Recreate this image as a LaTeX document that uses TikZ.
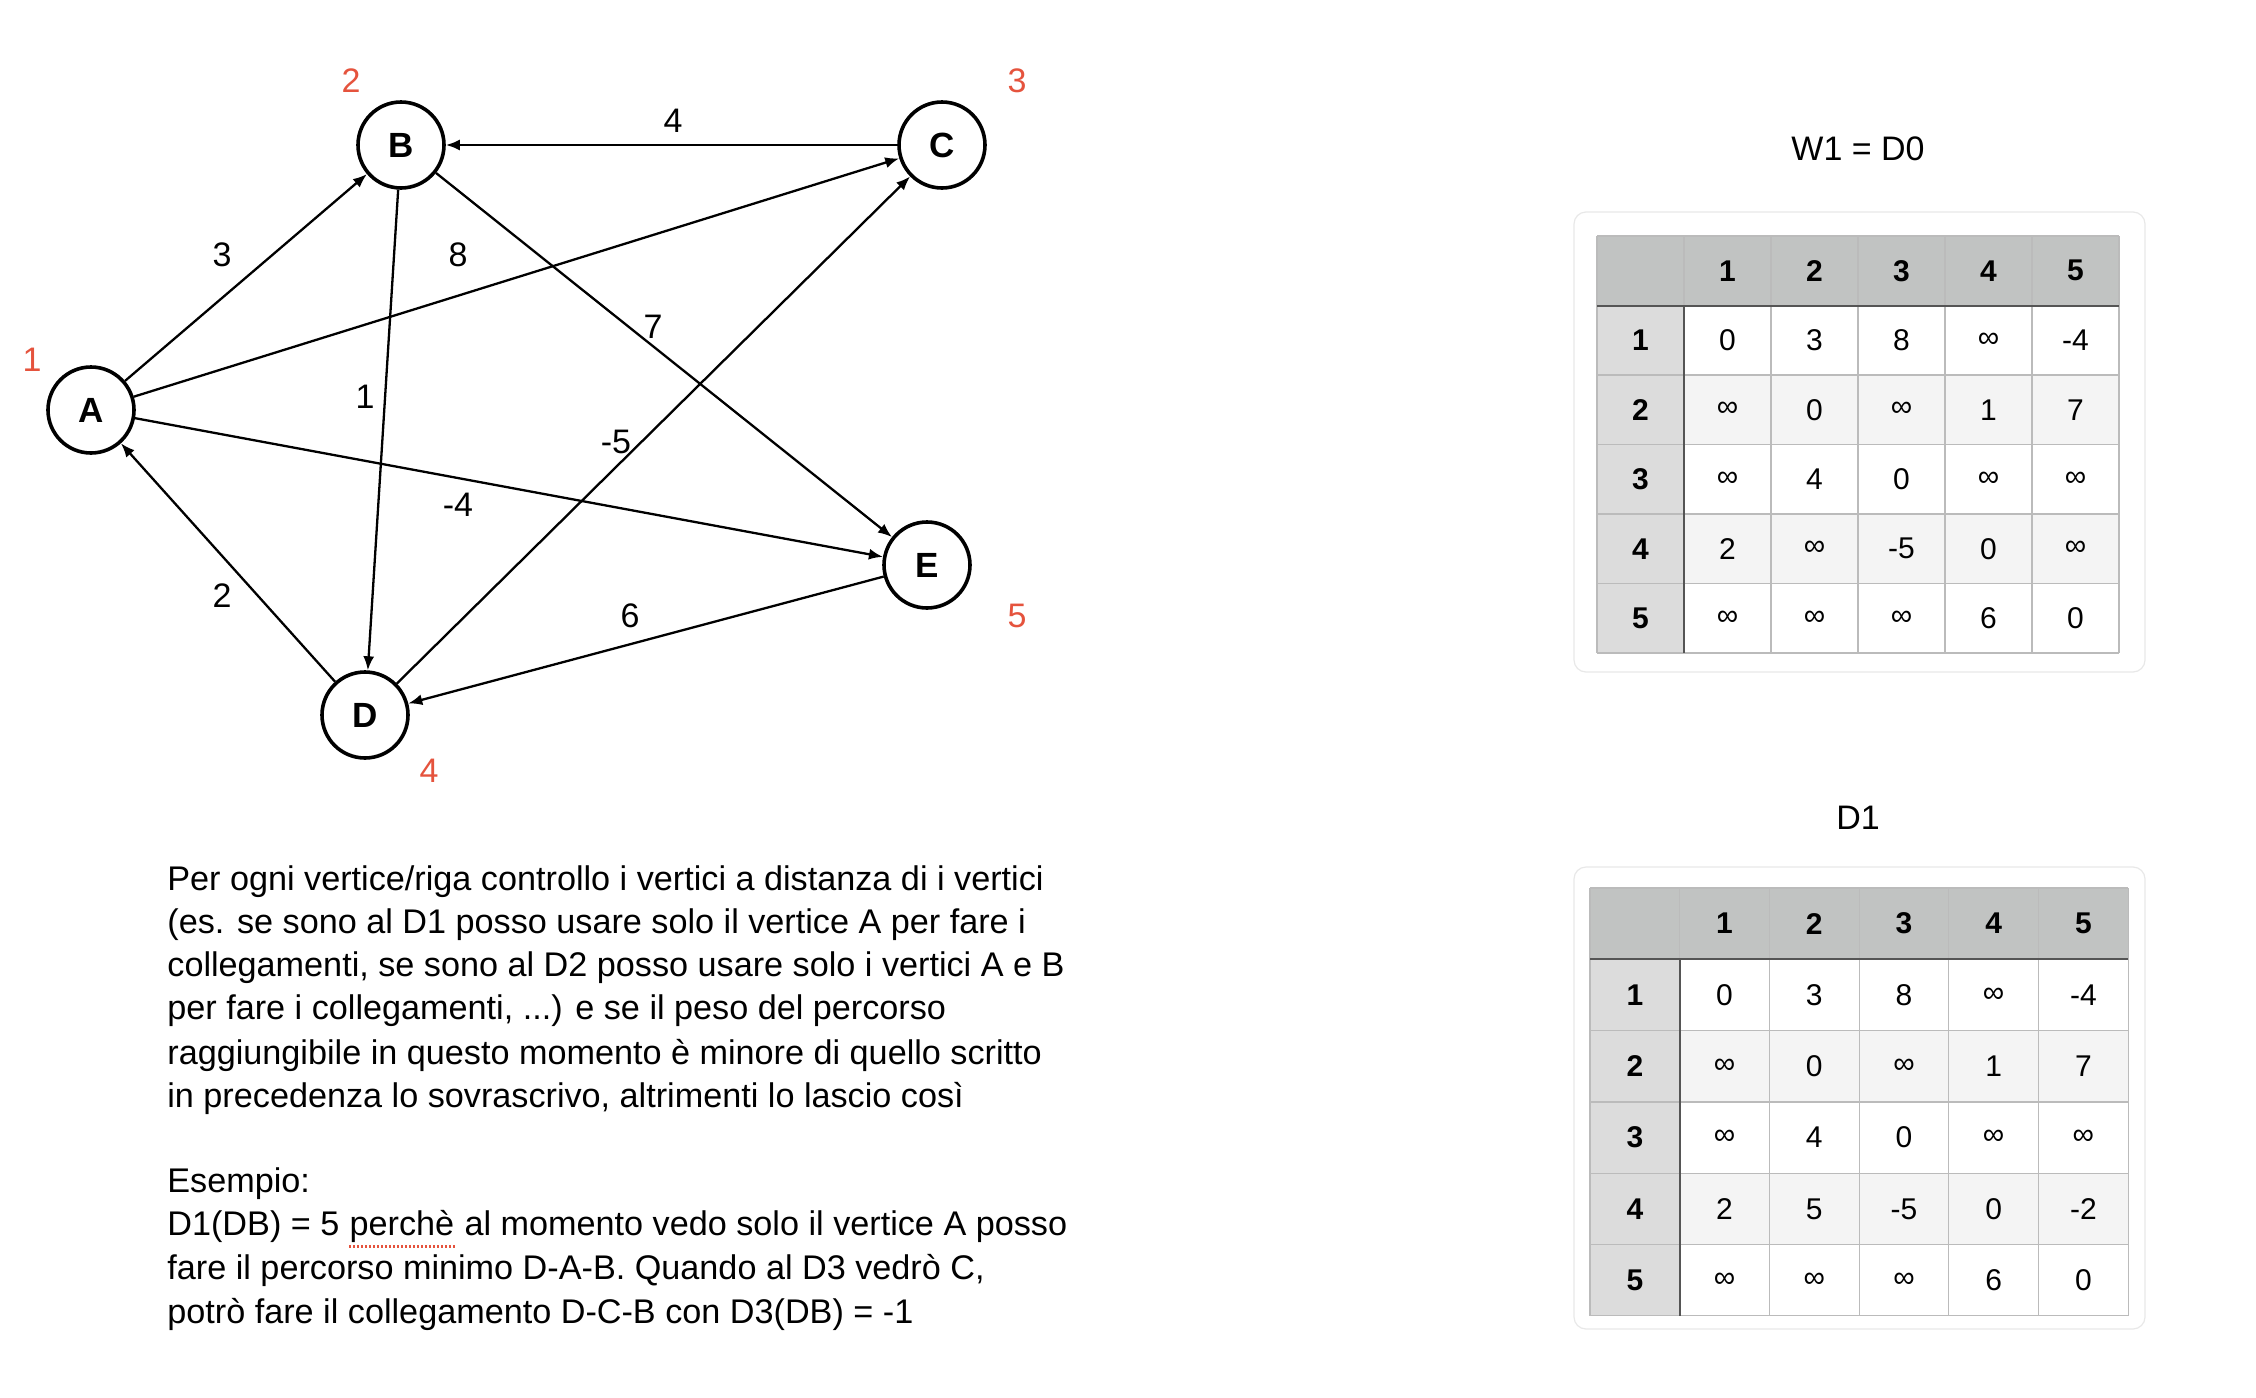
\documentclass[tikz,border=0pt]{standalone}
\usepackage{fontspec}
\setmainfont{Liberation Sans}
\usetikzlibrary{arrows.meta}
\definecolor{lblred}{HTML}{E5533D}
\definecolor{hdrgray}{HTML}{C1C3C2}
\definecolor{rowgray}{HTML}{DCDCDC}
\definecolor{altgray}{HTML}{F4F4F4}
\definecolor{gridgray}{HTML}{BBBBBB}
\definecolor{darkline}{HTML}{555555}
\tikzset{
  vtx/.style={circle,draw=black,line width=1.8pt,minimum size=43pt,inner sep=0pt,font=\fontsize{17.5}{20}\selectfont\bfseries},
  edge/.style={line width=1.15pt,-{Latex[length=7pt,width=5.5pt]}},
  wlbl/.style={font=\fontsize{17}{20}\selectfont},
  rlbl/.style={font=\fontsize{17}{20}\selectfont,text=lblred},
  cell/.style={font=\fontsize{15}{17}\selectfont},
  hcell/.style={font=\fontsize{15}{17}\selectfont\bfseries},
  ttl/.style={font=\fontsize{17}{20}\selectfont},
  para/.style={font=\fontsize{17.1}{20}\selectfont,anchor=west,inner sep=0pt},
  parac/.style={font=\fontsize{17.1}{20}\selectfont,anchor=base west,inner sep=0pt},
  card/.style={fill=white,draw=black!9,line width=0.6pt,rounded corners=6pt}
}
% #1 name, #2 x0, #3 y0, #4 col width, #5 row height, #6 rows
\newcommand\mytable[6]{%
  \fill[hdrgray] (#2,#3) rectangle ({#2+6*#4},{#3+#5});
  \fill[rowgray] (#2,{#3+#5}) rectangle ({#2+#4},{#3+6*#5});
  \fill[altgray] ({#2+#4},{#3+2*#5}) rectangle ({#2+6*#4},{#3+3*#5});
  \fill[altgray] ({#2+#4},{#3+4*#5}) rectangle ({#2+6*#4},{#3+5*#5});
  \foreach \i in {0,...,6} {
    \draw[gridgray,line width=0.6pt] (#2,{#3+\i*#5}) -- ({#2+6*#4},{#3+\i*#5});
    \draw[gridgray,line width=0.6pt] ({#2+\i*#4},#3) -- ({#2+\i*#4},{#3+6*#5});
  }
  \draw[darkline,line width=1pt] (#2,{#3+#5}) -- ({#2+6*#4},{#3+#5});
  \draw[darkline,line width=1pt] ({#2+#4},{#3+#5}) -- ({#2+#4},{#3+6*#5});
  \foreach \k in {1,...,5} {
    \node[hcell] (#1-h-\k) at ({#2+(\k+0.5)*#4},{#3+0.5*#5}) {\k};
    \node[hcell] (#1-r-\k) at ({#2+0.5*#4},{#3+(\k+0.5)*#5}) {\k};
  }
  \foreach \row [count=\r] in {#6} {
    \foreach \v [count=\c] in \row {
      \node[cell] (#1-\r-\c) at ({#2+(\c+0.5)*#4},{#3+(\r+0.5)*#5}) {\v};
    }
  }
}
\begin{document}
\begin{tikzpicture}[x=0.5pt,y=-0.5pt]
\useasboundingbox[fill=white] (0,0) rectangle (2256,1398);
% graph
\node[vtx] (A) at (91,410) {A};
\node[vtx] (B) at (401,145) {B};
\node[vtx] (C) at (942,145) {C};
\node[vtx] (E) at (927,565) {E};
\node[vtx] (D) at (365,715) {D};
\draw[edge] (A) -- (B);
\draw[edge] (A) -- (C);
\draw[edge] (A) -- (E);
\draw[edge] (B) -- (D);
\draw[edge] (B) -- (E);
\draw[edge] (C) -- (B);
\draw[edge] (D) -- (A);
\draw[edge] (D) -- (C);
\draw[edge] (E) -- (D);
\node[wlbl] (l4) at (673,121) {4};
\node[wlbl] (l3) at (222,255) {3};
\node[wlbl] (l8) at (458,255) {8};
\node[wlbl] (l7) at (653,327) {7};
\node[wlbl] (l1) at (365,397) {1};
\node[wlbl] (lm5) at (616,442) {-5};
\node[wlbl] (lm4) at (458,505) {-4};
\node[wlbl] (l2) at (222,596) {2};
\node[wlbl] (l6) at (630,616) {6};
\node[rlbl] (n1) at (32,360) {1};
\node[rlbl] (n2) at (351,81) {2};
\node[rlbl] (n3) at (1017,81) {3};
\node[rlbl] (n4) at (429,771) {4};
\node[rlbl] (n5) at (1017,616) {5};
% paragraph
\node[para] (p1) at (167,882) {Per ogni vertice/riga controllo i vertici a distanza di i vertici};
\node[para] (p2) at (167,925) {(es. se sono al D1 posso usare solo il vertice A per fare i};
\node[para] (p3) at (167,968) {collegamenti, se sono al D2 posso usare solo i vertici A e B};
\node[para] (p4) at (167,1011) {per fare i collegamenti, ...) e se il peso del percorso};
\node[para] (p5) at (167,1055) {raggiungibile in questo momento è minore di quello scritto};
\node[para] (p6) at (167,1098) {in precedenza lo sovrascrivo, altrimenti lo lascio così};
\node[para] (p7) at (167,1184) {Esempio:};
\node[para] (p8a) at (167,1227) {D1(DB) = 5\ \hbox{}};
\node[parac] (p8b) at (p8a.base east) {perchè};
\node[parac] (p8c) at (p8b.base east) {\ al momento vedo solo il vertice A posso};
\draw[lblred,line width=1.2pt,dash pattern=on 1pt off 1pt] ([yshift=-1.5pt]p8b.south west) -- ([yshift=-1.5pt]p8b.south east);
\node[para] (p9) at (167,1270) {fare il percorso minimo D-A-B. Quando al D3 vedrò C,};
\node[para] (p10) at (167,1314) {potrò fare il collegamento D-C-B con D3(DB) = -1};
% tables
\node[ttl] (t1) at (1858,149) {W1 = D0};
\draw[card] (1574,212) rectangle (2145,672);
\mytable{w}{1597}{236}{87}{69.5}{{0,3,8,∞,-4},{∞,0,∞,1,7},{∞,4,0,∞,∞},{2,∞,-5,0,∞},{∞,∞,∞,6,0}}
\node[ttl] (t2) at (1858,818) {D1};
\draw[card] (1574,867) rectangle (2145,1329);
\mytable{d}{1590}{888}{89.7}{71.3}{{0,3,8,∞,-4},{∞,0,∞,1,7},{∞,4,0,∞,∞},{2,5,-5,0,-2},{∞,∞,∞,6,0}}
\end{tikzpicture}
\end{document}
